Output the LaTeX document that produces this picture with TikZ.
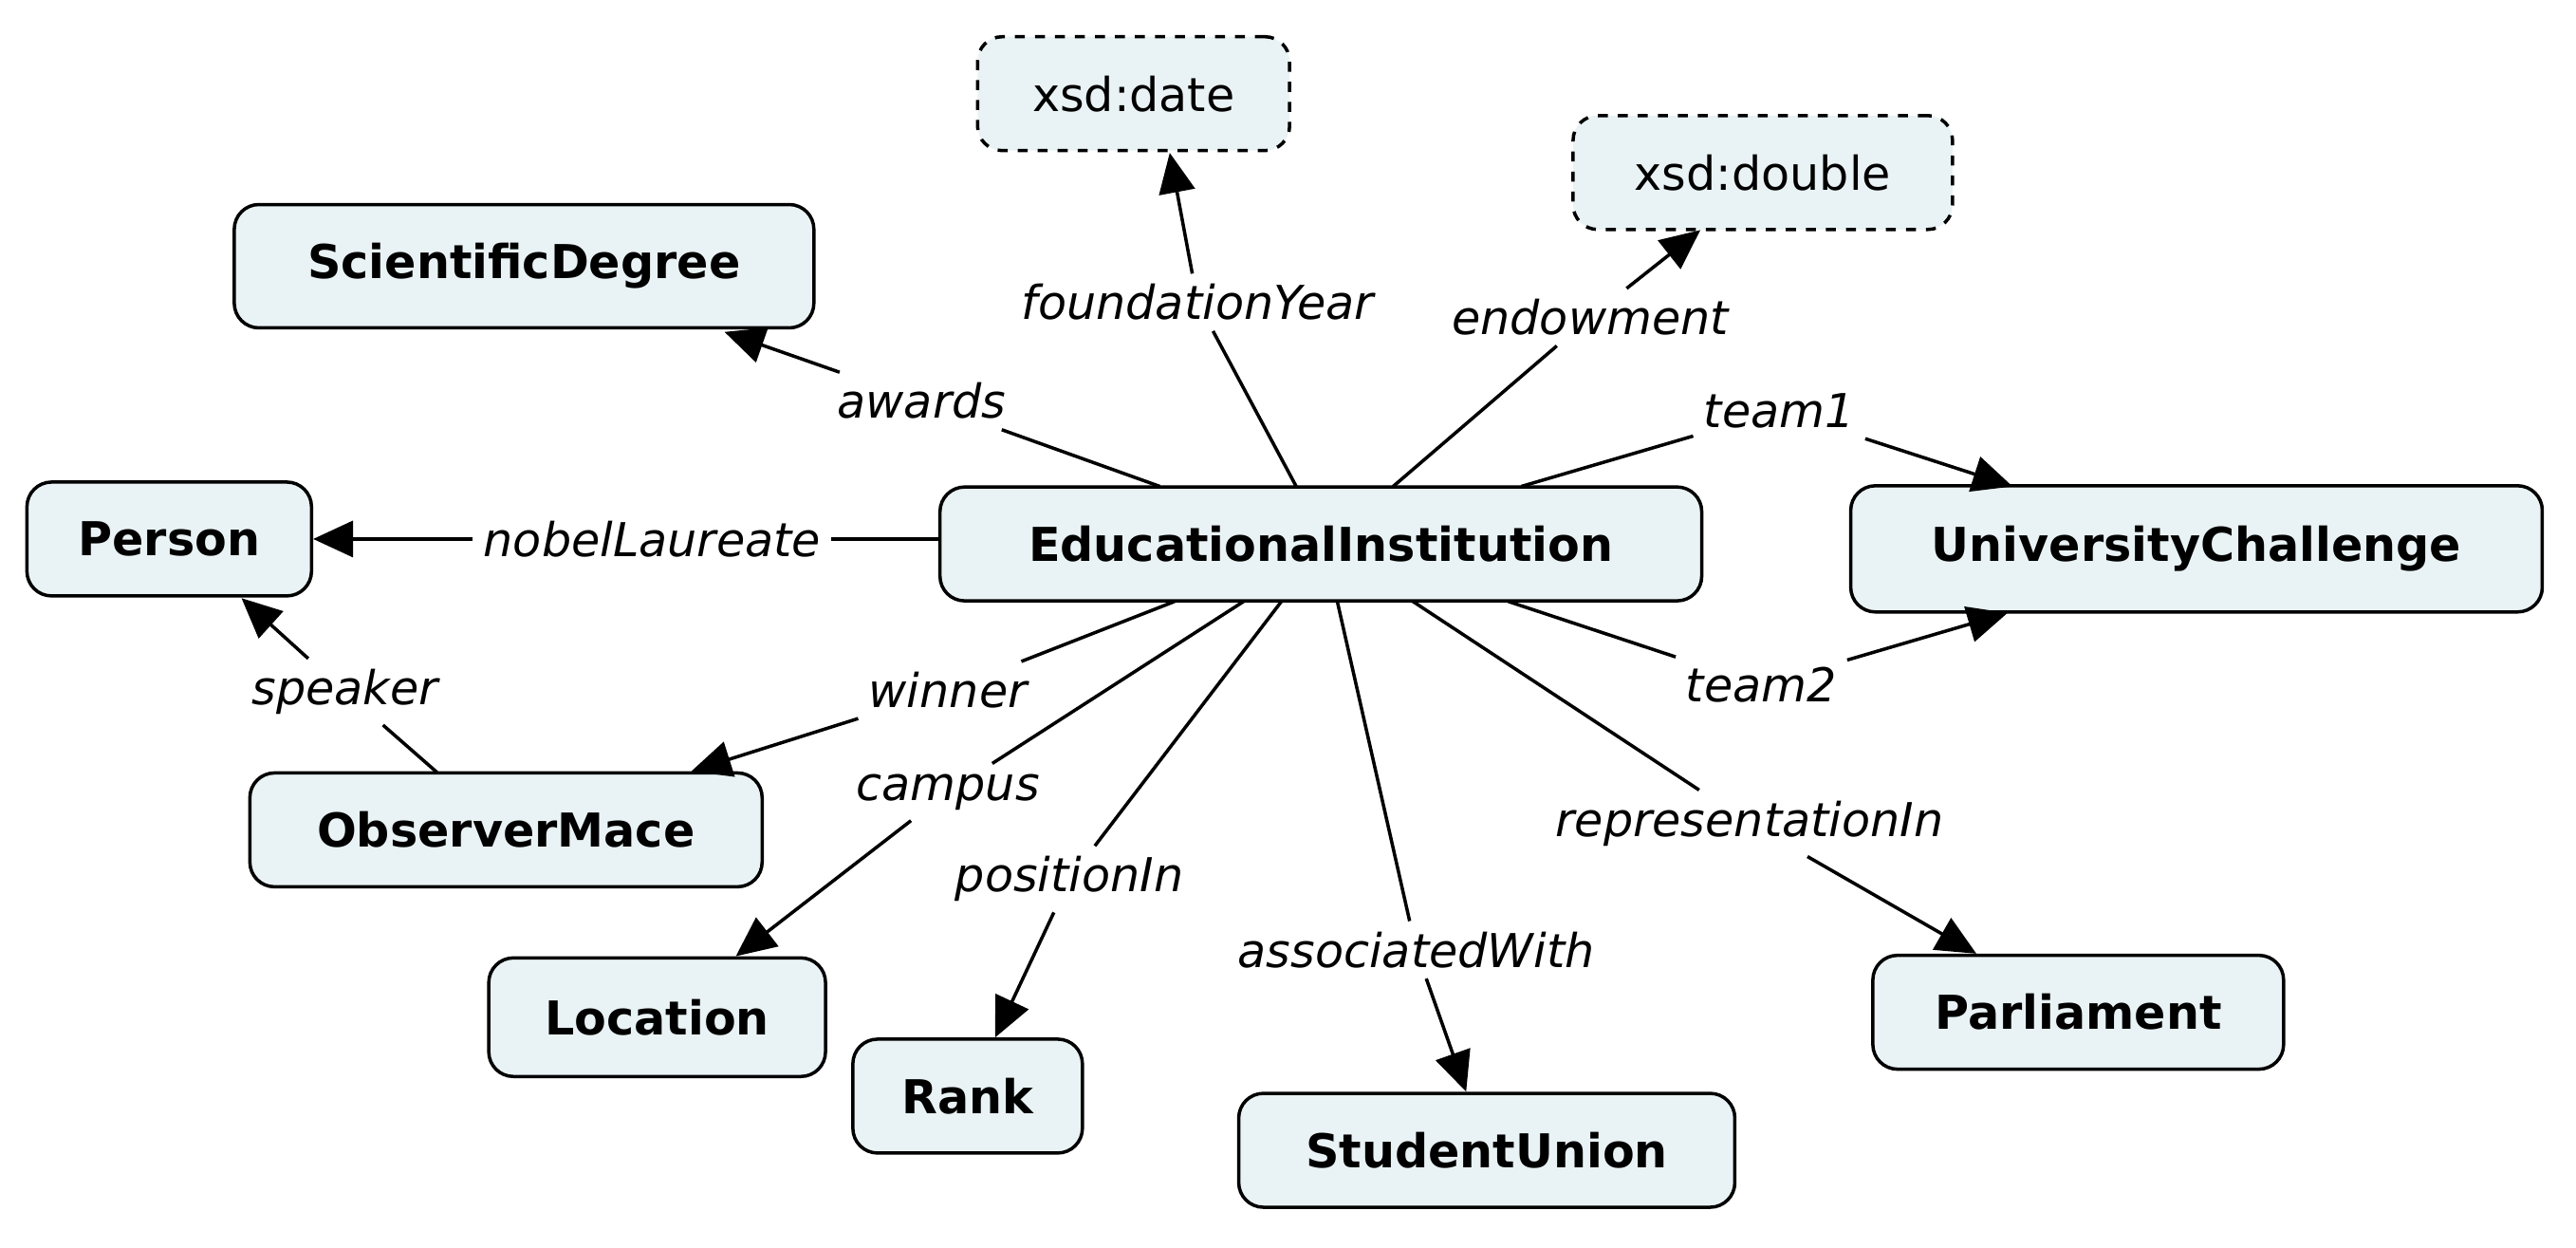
\documentclass[tikz,border=0pt]{standalone}
\usepackage{fontspec}
\setmainfont{DejaVu Sans}
\usetikzlibrary{arrows.meta}
\definecolor{boxfill}{HTML}{E9F2F4}
\begin{document}
\begin{tikzpicture}[x=0.017315cm,y=-0.017315cm,
 cls/.style={draw,line width=1pt,fill=boxfill,rounded corners=0.26cm,font=\fontsize{14}{16}\selectfont\bfseries,minimum height=1.2cm,inner sep=2pt},
 lit/.style={cls,dashed,font=\fontsize{14}{16}\selectfont},
 lab/.style={font=\fontsize{14}{16}\selectfont\itshape,inner sep=3pt,fill=white},
 ln/.style={line width=1pt},
 arr/.style={line width=1pt,-{Triangle[length=0.42cm,width=0.38cm]}}]
\useasboundingbox (0,0) rectangle (1568,759);
\node[lit,minimum width=3.29cm] (date) at (690,57) {xsd:date};
\node[lit,minimum width=4.0cm] (double) at (1073,105) {xsd:double};
\node[cls,minimum width=6.11cm,minimum height=1.3cm] (sci) at (319,162) {ScientificDegree};
\node[cls,minimum width=3.0cm] (person) at (103,328) {Person};
\node[cls,minimum width=8.03cm] (ei) at (804,331) {EducationalInstitution};
\node[cls,minimum width=7.29cm,minimum height=1.33cm] (uc) at (1337,334) {UniversityChallenge};
\node[cls,minimum width=5.4cm] (om) at (308,505) {ObserverMace};
\node[cls,minimum width=3.55cm,minimum height=1.25cm] (loc) at (400,619) {Location};
\node[cls,minimum width=2.42cm] (rank) at (589,667) {Rank};
\node[cls,minimum width=5.23cm] (su) at (905,700) {StudentUnion};
\node[cls,minimum width=4.33cm] (parl) at (1265,616) {Parliament};

\node[lab] (l1) at (561,244) {awards};
\node[lab] (l2) at (729,184) {foundationYear};
\node[lab] (l3) at (968,193) {endowment};
\node[lab] (l4) at (1083,250) {team1};
\node[lab] (l5) at (1072,417) {team2};
\node[lab] (l6) at (397,328) {nobelLaureate};
\node[lab] (l7) at (577,420) {winner};
\node[lab] (l8) at (210,421) {speaker};
\node[lab] (l9) at (577,482) {campus};
\node[lab] (l10) at (651,535) {positionIn};
\node[lab] (l11) at (862,578) {associatedWith};
\node[lab] (l12) at (1065,501) {representationIn};

\coordinate (s1) at (706,296);
\coordinate (s2) at (789,296);
\coordinate (s3) at (848,296);
\coordinate (s4) at (926,296);
\coordinate (s5) at (918,366);
\coordinate (s6) at (572,328);
\coordinate (s7) at (715,366);
\coordinate (s9) at (757,366);
\coordinate (s10) at (780,366);
\coordinate (s11) at (814,366);
\coordinate (s12) at (860,366);
\coordinate (s8) at (266,470);
\coordinate (t4) at (1225,296);
\coordinate (t5) at (1222,373);

\draw[ln] (s1) -- (l1); \draw[arr] (l1) -- (441,202);
\draw[ln] (s2) -- (l2); \draw[arr] (l2) -- (712,93);
\draw[ln] (s3) -- (l3); \draw[arr] (l3) -- (1035,140);
\draw[ln] (s4) -- (l4); \draw[arr] (l4) -- (t4);
\draw[ln] (s5) -- (l5); \draw[arr] (l5) -- (t5);
\draw[ln] (s6) -- (l6); \draw[arr] (l6) -- (person);
\draw[ln] (s7) -- (l7); \draw[arr] (l7) -- (om);
\draw[ln] (s8) -- (l8); \draw[arr] (l8) -- (147,364);
\draw[ln] (s9) -- (l9); \draw[arr] (l9) -- (loc);
\draw[ln] (s10) -- (l10); \draw[arr] (l10) -- (rank);
\draw[ln] (s11) -- (l11); \draw[arr] (l11) -- (su);
\draw[ln] (s12) -- (l12); \draw[arr] (l12) -- (parl);
\end{tikzpicture}
\end{document}
